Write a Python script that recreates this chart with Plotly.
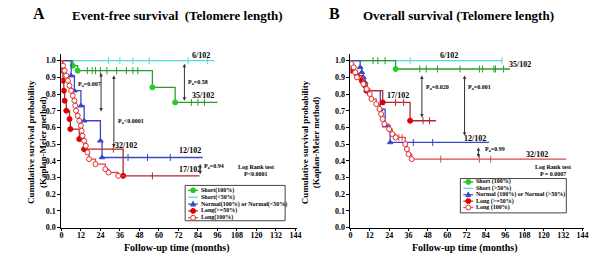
import plotly.graph_objects as go

# ---------------- data ----------------
month_ticks = list(range(0, 145, 12))
surv_ticks = [round(i / 10, 1) for i in range(11)]

# Panel A : event-free survival
A_short100_t = [0, 7, 10, 56, 70, 96]
A_short100_s = [1.0, 0.97, 0.94, 0.84, 0.75, 0.75]
A_short100_c = [16, 19, 21, 24, 28, 34, 40, 44, 47, 80, 84, 88]

A_short50_t = [0, 94]
A_short50_s = [1.0, 1.0]
A_short50_c = [29, 36, 44, 54, 78, 90]

A_normal_t = [0, 6, 8, 12, 14, 24, 25, 87]
A_normal_s = [1.0, 0.91, 0.82, 0.73, 0.64, 0.52, 0.42, 0.42]
A_normal_c = [41, 53, 67]

A_long50_t = [0, 0.5, 1, 1.5, 2, 3, 5, 5.5, 11, 14, 38, 85]
A_long50_s = [1.0, 0.94, 0.88, 0.82, 0.76, 0.70, 0.65, 0.59, 0.53, 0.47, 0.31, 0.31]
A_long50_c = [32, 56]

A_long100_t = [0, 1, 2, 3, 4, 5, 6, 7, 8, 8.5, 9, 10, 11, 12, 12.5, 13, 14, 15, 16, 17, 21, 27, 29, 35, 39]
A_long100_s = [1.0, 0.97, 0.94, 0.91, 0.88, 0.85, 0.82, 0.79, 0.76, 0.73, 0.70, 0.67, 0.64, 0.61,
               0.58, 0.55, 0.52, 0.49, 0.45, 0.41, 0.38, 0.35, 0.33, 0.31, 0.31]
A_long100_c = []

# Panel B : overall survival
B_short100_t = [0, 28, 99]
B_short100_s = [1.0, 0.95, 0.95]
B_short100_c = [14, 17, 21.5, 43, 47, 54, 68, 80, 82, 89, 90, 95]

B_short50_t = [0, 94]
B_short50_s = [1.0, 1.0]
B_short50_c = [37, 94]

B_normal_t = [0, 6, 7, 8, 9, 10, 18.5, 21.5, 24.6, 86]
B_normal_s = [1.0, 0.96, 0.93, 0.90, 0.87, 0.82, 0.71, 0.61, 0.51, 0.51]
B_normal_c = [39, 51]

B_long50_t = [0, 0.5, 4, 7, 9, 10, 20, 37, 53]
B_long50_s = [1.0, 0.94, 0.91, 0.88, 0.85, 0.82, 0.75, 0.64, 0.64]
B_long50_c = [28, 33, 45, 49]

B_long100_t = [0, 0.5, 2, 3, 4, 8, 10, 12, 13, 16, 18, 19, 20, 21, 24, 26, 28, 34, 35, 36, 38, 134]
B_long100_s = [1.0, 0.98, 0.96, 0.93, 0.90, 0.86, 0.83, 0.80, 0.77, 0.74, 0.71, 0.68, 0.65, 0.62,
               0.59, 0.56, 0.54, 0.50, 0.47, 0.44, 0.41, 0.41]
B_long100_c = [30, 32, 56, 80, 87]

legend_A = ["Short(100%)", "Short(<50%)", "Normal(100%) or Normal(<50%)", "Long(>=50%)", "Long(100%)"]
legend_B = ["Short (100%)", "Short (>50%)", "Normal (100%) or Normal (>50%)", "Long (>=50%)", "Long (100%)"]

# ---------------- styles ----------------
W, H = 600, 264
SERIF = "Liberation Serif"
styles = {
    "short100": dict(line="#2f9a2f", mcolor="#22cc22", symbol="circle", fill="#22cc22"),
    "short50": dict(line="#55dada", mcolor="#55dada", symbol="circle", fill="#55dada"),
    "normal": dict(line="#3a48c8", mcolor="#3a48c8", symbol="triangle-up", fill="#3a48c8"),
    "long50": dict(line="#b02a2a", mcolor="#dd0000", symbol="circle", fill="#dd0000"),
    "long100": dict(line="#e04848", mcolor="#e03030", symbol="circle", fill="white"),
}


def px(x):
    return x / W


def py(y):
    return 1 - y / H


def step_y(ts, ss, c):
    v = ss[0]
    for t, s in zip(ts, ss):
        if t <= c:
            v = s
    return v


fig = go.Figure()


def add_curve(ts, ss, cs, key, xa, ya, msize=5):
    st = styles[key]
    fig.add_trace(go.Scatter(x=ts, y=ss, mode="lines", line=dict(color=st["line"], width=1.3, shape="hv"),
                             xaxis=xa, yaxis=ya, showlegend=False, hoverinfo="skip"))
    if cs:
        fig.add_trace(go.Scatter(x=cs, y=[step_y(ts, ss, c) for c in cs], mode="markers",
                                 marker=dict(symbol="line-ns", size=5, line=dict(color=st["line"], width=1)),
                                 xaxis=xa, yaxis=ya, showlegend=False, hoverinfo="skip"))
    if len(ts) > 2:
        fig.add_trace(go.Scatter(x=ts[1:-1], y=ss[1:-1], mode="markers",
                                 marker=dict(symbol=st["symbol"], size=msize, color=st["fill"],
                                             line=dict(color=st["mcolor"], width=1)),
                                 xaxis=xa, yaxis=ya, showlegend=False, hoverinfo="skip"))


# Panel A curves
add_curve(A_short50_t, A_short50_s, A_short50_c, "short50", "x", "y")
add_curve(A_short100_t, A_short100_s, A_short100_c, "short100", "x", "y")
add_curve(A_normal_t, A_normal_s, A_normal_c, "normal", "x", "y")
add_curve(A_long50_t, A_long50_s, A_long50_c, "long50", "x", "y")
add_curve(A_long100_t, A_long100_s, A_long100_c, "long100", "x", "y")

# Panel B curves
add_curve(B_short50_t, B_short50_s, B_short50_c, "short50", "x2", "y2")
add_curve(B_short100_t, B_short100_s, B_short100_c, "short100", "x2", "y2")
add_curve(B_normal_t, B_normal_s, B_normal_c, "normal", "x2", "y2")
add_curve(B_long50_t, B_long50_s, B_long50_c, "long50", "x2", "y2")
add_curve(B_long100_t, B_long100_s, B_long100_c, "long100", "x2", "y2")

# ---------------- legends (shapes in paper coordinates) ----------------
keys = ["short100", "short50", "normal", "long50", "long100"]


def draw_legend(labels, box, sym_x0, sym_x1, text_x, ys):
    fig.add_shape(type="rect", x0=px(box[0]), x1=px(box[1]), y0=py(box[3]), y1=py(box[2]),
                  xref="paper", yref="paper", line=dict(color="#444", width=1), fillcolor="white")
    for lab, key, yy in zip(labels, keys, ys):
        st = styles[key]
        fig.add_shape(type="line", x0=px(sym_x0), x1=px(sym_x1), y0=py(yy), y1=py(yy),
                      xref="paper", yref="paper", line=dict(color=st["line"], width=1.2))
        cx = (sym_x0 + sym_x1) / 2
        r = 2.5
        if key == "normal":
            path = (f"M {px(cx - r)},{py(yy + r * 0.8)} L {px(cx + r)},{py(yy + r * 0.8)} "
                    f"L {px(cx)},{py(yy - r * 1.1)} Z")
            fig.add_shape(type="path", path=path, xref="paper", yref="paper",
                          fillcolor=st["fill"], line=dict(color=st["mcolor"], width=1))
        elif key != "short50":
            fig.add_shape(type="circle", x0=px(cx - r), x1=px(cx + r), y0=py(yy + r), y1=py(yy - r),
                          xref="paper", yref="paper", fillcolor=st["fill"],
                          line=dict(color=st["mcolor"], width=1))
        fig.add_annotation(x=px(text_x), y=py(yy), xref="paper", yref="paper", text=lab, showarrow=False,
                           xanchor="left", yanchor="middle",
                           font=dict(family=SERIF, size=6, color="black", weight="bold"))


draw_legend(legend_A, (185, 286, 189, 225), 188, 198, 199, [194, 201, 208, 215, 222])
draw_legend(legend_B, (463, 570, 182, 217), 466, 476, 477, [185.5, 192, 198.5, 205, 211.5])

# ---------------- axes ----------------
tickfont = dict(family=SERIF, size=8, color="black", weight="bold")
common_x = dict(range=[0, 145], tickvals=month_ticks, showline=True, linecolor="black", linewidth=1,
                ticks="outside", ticklen=2, tickcolor="black", showgrid=False, zeroline=False,
                tickfont=tickfont, ticklabelstandoff=-2)
common_y = dict(range=[0, 1.04], tickvals=surv_ticks, tickformat=".1f", showline=True, linecolor="black",
                linewidth=1, ticks="outside", ticklen=3, tickcolor="black", showgrid=False, zeroline=False,
                tickfont=tickfont)
ydom = [32 / H, 209 / H]
fig.update_layout(
    width=W, height=H, margin=dict(l=0, r=0, t=0, b=0),
    paper_bgcolor="white", plot_bgcolor="white", showlegend=False,
    xaxis=dict(domain=[60 / W, 298 / W], anchor="y", **common_x),
    yaxis=dict(domain=ydom, anchor="x", **common_y),
    xaxis2=dict(domain=[352 / W, 588 / W], anchor="y2", **common_x),
    yaxis2=dict(domain=ydom, anchor="x2", **common_y),
)


# ---------------- titles ----------------
def ptext(x, y, text, size, anchor="center", angle=0):
    fig.add_annotation(x=px(x), y=py(y), xref="paper", yref="paper", text=text, showarrow=False,
                       xanchor=anchor, yanchor="middle", textangle=angle,
                       font=dict(family=SERIF, size=size, color="black", weight="bold"))


ptext(37, 14, "A", 16)
ptext(177, 16, "Event-free survival  (Telomere length)", 13)
ptext(336, 14, "B", 16)
ptext(461, 16, "Overall survival (Telomere length)", 13)
ptext(177, 253, "Follow-up time (months)", 10)
ptext(468, 253, "Follow-up time (months)", 10)
ptext(36, 145, "Cumulative survival probability<br>(Kaplan-Meier method)", 9, angle=-90)
ptext(312, 145, "Cumulative survival probability<br>(Kaplan-Meier method)", 9, angle=-90)


# ---------------- in-plot labels & arrows ----------------
def dtext(xa, ya, x, y, text, size=8, anchor="center"):
    fig.add_annotation(x=x, y=y, xref=xa, yref=ya, text=text, showarrow=False, xanchor=anchor,
                       yanchor="middle", font=dict(family=SERIF, size=size, color="black", weight="bold"))


def darrow(xa, ya, x, y0, y1):
    fig.add_annotation(x=x, y=y1, ax=x, ay=y0, xref=xa, yref=ya, axref=xa, ayref=ya, text="",
                       showarrow=True, arrowhead=2, arrowsize=0.7, arrowwidth=1, arrowside="end+start",
                       arrowcolor="#333")


# Panel A
dtext("x", "y", 86, 1.03, "6/102")
dtext("x", "y", 87, 0.79, "35/102")
dtext("x", "y", 79, 0.46, "12/102")
dtext("x", "y", 79, 0.35, "17/102")
dtext("x", "y", 40, 0.49, "32/102")
darrow("x", "y", 24.4, 0.935, 0.695)
dtext("x", "y", 17, 0.86, "P<sub>a</sub>=0.007", size=6)
darrow("x", "y", 32.3, 0.92, 0.48)
dtext("x", "y", 33.5, 0.635, "P<sub>a</sub><0.0001", size=6, anchor="left")
darrow("x", "y", 75.7, 0.99, 0.76)
dtext("x", "y", 76.5, 0.87, "P<sub>a</sub>=0.58", size=6, anchor="left")
darrow("x", "y", 85.4, 0.39, 0.32)
dtext("x", "y", 86.5, 0.365, "P<sub>a</sub>=0.94", size=6, anchor="left")
dtext("x", "y", 119.6, 0.36, "Log Rank test", size=6)
dtext("x", "y", 119.6, 0.32, "P<0.0001", size=6)

# Panel B
dtext("x2", "y2", 61, 1.03, "6/102")
dtext("x2", "y2", 105, 0.975, "35/102")
dtext("x2", "y2", 29.5, 0.79, "17/102")
dtext("x2", "y2", 77, 0.535, "12/102")
dtext("x2", "y2", 115.7, 0.44, "32/102")
darrow("x2", "y2", 44.3, 0.92, 0.66)
dtext("x2", "y2", 45.5, 0.84, "P<sub>a</sub>=0.020", size=6, anchor="left")
darrow("x2", "y2", 70.8, 0.92, 0.55)
dtext("x2", "y2", 72, 0.84, "P<sub>a</sub>=0.001", size=6, anchor="left")
darrow("x2", "y2", 79.4, 0.49, 0.42)
dtext("x2", "y2", 82, 0.465, "P<sub>a</sub>=0.99", size=6, anchor="left")
dtext("x2", "y2", 125.5, 0.365, "Log Rank test", size=6)
dtext("x2", "y2", 125.5, 0.32, "P = 0.0007", size=6)

fig.write_html(
    "out.html", config={"displayModeBar": False},
    post_script=("document.documentElement.style.margin='0';document.documentElement.style.padding='0';"
                 "document.documentElement.style.overflow='hidden';"
                 "document.body.style.margin='0';document.body.style.padding='0';"
                 "document.body.style.overflow='hidden';"))
